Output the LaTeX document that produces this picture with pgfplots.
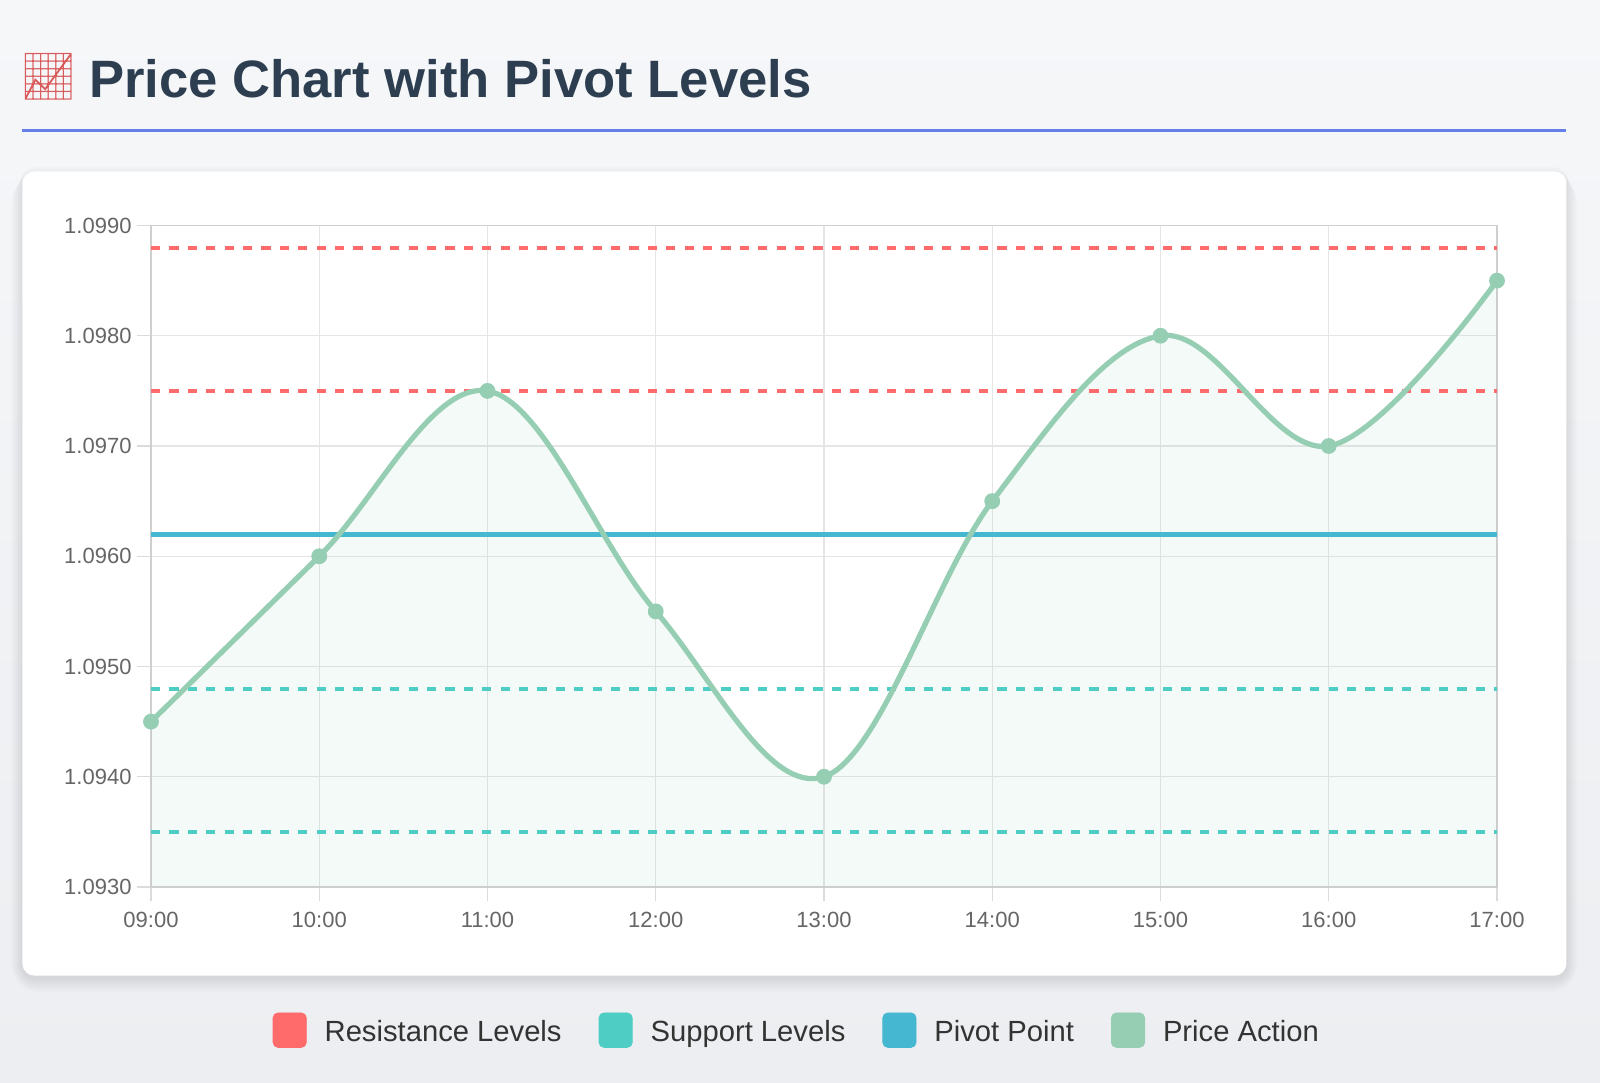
\documentclass[border=0pt]{standalone}
\usepackage{fontspec}
\setmainfont{Liberation Sans}
\newfontfamily\emojifont{Noto Emoji}
\usepackage{pgfplots}
\pgfplotsset{compat=1.18}
\definecolor{bgtop}{HTML}{F6F7F9}
\definecolor{bgbot}{HTML}{ECEEF1}
\definecolor{ctitle}{HTML}{2C3E50}
\definecolor{csep}{HTML}{667EEA}
\definecolor{cres}{HTML}{FF6B6B}
\definecolor{csup}{HTML}{4ECDC4}
\definecolor{cpiv}{HTML}{45B7D1}
\definecolor{cprice}{HTML}{96CEB4}
\definecolor{cgrid}{HTML}{E5E5E5}
\definecolor{caxis}{HTML}{CFCFCF}
\definecolor{ctick}{HTML}{666666}
\definecolor{ctext}{HTML}{333333}
\begin{document}
\begin{tikzpicture}[x=1pt,y=1pt]
\shade[top color=bgtop,bottom color=bgbot] (0,0) rectangle (800,-541);
\path[use as bounding box] (0,0) rectangle (800,-541);
% title
\node[anchor=center,inner sep=0pt,text=cres!85!black] at (24.2,-38.5) {\emojifont\fontsize{23}{23}\selectfont 📈};
\node[anchor=base west,inner sep=0pt,text=ctitle] at (44.5,-48.5) {\fontsize{26.3}{30}\selectfont\bfseries Price Chart with Pivot Levels};
\fill[csep] (11.2,-64.6) rectangle (783.2,-66.2);
% card shadow
\foreach \d in {1,2,3,4,5,6,7,8}{
  \fill[black,opacity=0.012,rounded corners={6+\d}] (11.2-0.7*\d,-85.7-0.7*\d+3) rectangle (783.2+0.7*\d,-487.8-0.9*\d-1);
}
\fill[white,rounded corners=6] (11.2,-85.7) rectangle (783.2,-487.8);
\begin{axis}[
  at={(75.5pt,-443.5pt)}, anchor=south west,
  scale only axis, width=673pt, height=330.75pt,
  xmin=0, xmax=8, ymin=1.0930, ymax=1.0990,
  xtick={0,1,2,3,4,5,6,7,8},
  xticklabels={09:00,10:00,11:00,12:00,13:00,14:00,15:00,16:00,17:00},
  ytick={1.093,1.094,1.095,1.096,1.097,1.098,1.099},
  yticklabel={\pgfmathprintnumber[fixed,fixed zerofill,precision=4,assume math mode=true]{\tick}},
  tick label style={font=\fontsize{11}{13}\selectfont, text=ctick},
  xticklabel style={yshift=-2pt},
  yticklabel style={xshift=0.8pt},
  xtick pos=bottom, ytick pos=left,
  tick align=outside, major tick length=7pt,
  major tick style={draw=cgrid!90!gray, line width=0.7pt},
  grid=major, major grid style={cgrid, line width=0.7pt},
  axis line style={caxis, line width=0.8pt},
  legend columns=4,
  legend style={at={(0.479,-0.2164)}, anchor=center, draw=none, fill=none,
    font=\fontsize{14.6}{17}\selectfont, text=ctext,
    nodes={inner sep=0pt},
    /tikz/every odd column/.append style={column sep=9pt},
    /tikz/every even column/.append style={column sep=18.5pt}},
  clip=false,
]
\addlegendimage{legend image code/.code={\fill[cres,rounded corners=2.5pt] (0pt,-7.4pt) rectangle (16.6pt,9.8pt);}}
\addlegendentry{Resistance Levels}
\addlegendimage{legend image code/.code={\fill[csup,rounded corners=2.5pt] (0pt,-7.4pt) rectangle (16.6pt,9.8pt);}}
\addlegendentry{Support Levels}
\addlegendimage{legend image code/.code={\fill[cpiv,rounded corners=2.5pt] (0pt,-7.4pt) rectangle (16.6pt,9.8pt);}}
\addlegendentry{Pivot Point}
\addlegendimage{legend image code/.code={\fill[cprice,rounded corners=2.5pt] (0pt,-7.4pt) rectangle (16.6pt,9.8pt);}}
\addlegendentry{Price Action}
% price fill
\addplot[forget plot, draw=none, fill=cprice, fill opacity=0.1, smooth, tension=0.6]
  coordinates {(0,1.0945)(1,1.0960)(2,1.0975)(3,1.0955)(4,1.0940)(5,1.0965)(6,1.0980)(7,1.0970)(8,1.0985)} \closedcycle;
% levels
\addplot[forget plot, cres, line width=2pt, dash pattern=on 4.6pt off 4.6pt] coordinates {(0,1.0988)(8,1.0988)};
\addplot[forget plot, cres, line width=2pt, dash pattern=on 4.6pt off 4.6pt] coordinates {(0,1.0975)(8,1.0975)};
\addplot[forget plot, csup, line width=2pt, dash pattern=on 4.6pt off 4.6pt] coordinates {(0,1.0948)(8,1.0948)};
\addplot[forget plot, csup, line width=2pt, dash pattern=on 4.6pt off 4.6pt] coordinates {(0,1.0935)(8,1.0935)};
\addplot[forget plot, cpiv, line width=2.4pt] coordinates {(0,1.0962)(8,1.0962)};
% price line
\addplot[forget plot, cprice, line width=2.6pt, smooth, tension=0.6, mark=*, mark size=3.7pt, mark options={fill=cprice, draw=cprice, line width=0.5pt}]
  coordinates {(0,1.0945)(1,1.0960)(2,1.0975)(3,1.0955)(4,1.0940)(5,1.0965)(6,1.0980)(7,1.0970)(8,1.0985)};
\end{axis}
\end{tikzpicture}
\end{document}
